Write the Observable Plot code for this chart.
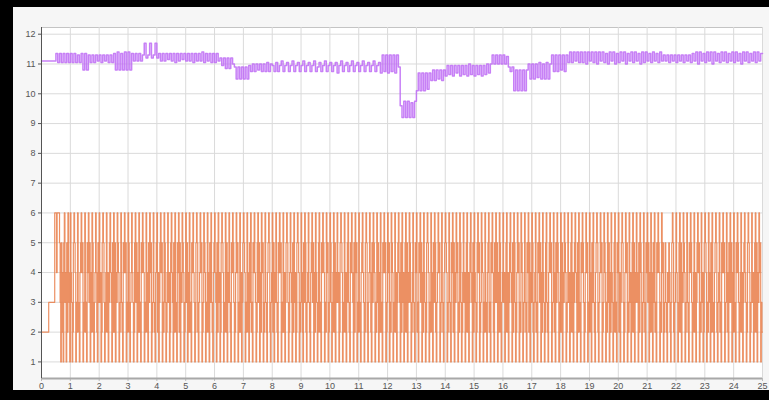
<!DOCTYPE html>
<html><head><meta charset="utf-8">
<script src="https://cdn.jsdelivr.net/npm/d3@7"></script>
<script src="https://cdn.jsdelivr.net/npm/@observablehq/plot@0.6"></script>
<style>
html,body{margin:0;padding:0;background:#000;width:769px;height:400px;overflow:hidden}
#panel{position:absolute;left:13px;top:7px;width:756px;height:383px;background:#f6f6f6}
#chart{position:absolute;left:0;top:0}
</style></head><body>
<div id="panel"></div>
<div id="chart"></div>
<script>
// x ticks (seconds) and y ticks
const xTicks = [0,1,2,3,4,5,6,7,8,9,10,11,12,13,14,15,16,17,18,19,20,21,22,23,24,25];
const yTicks = [1,2,3,4,5,6,7,8,9,10,11,12];

// Orange step signal: one string per second, 48 samples per second
const orangeRows = [
  "222222222222333333333366646666531524156341526431",
  "643125654132632145645123623154635142652134642153",
  "634125653124624135643152625143654123632154645132",
  "652134643125635142623154654132642153645123632145",
  "624135645132653124634125643152632154625143654123",
  "635142623154643125652134645123654132642153632145",
  "643152634125654123625143632154653124645132624135",
  "654132642153623154643125635142645123632145652134",
  "625143632154645132624135653124643152634125654123",
  "642153652134632145635142643125623154654132645123",
  "653124625143634125654123624135632154643152645132",
  "632145643125652134642153654132635142623154645123",
  "645132654123624135643152634125625143653124632154",
  "623154635142643125654132642153652134645123632145",
  "654123632154625143645132653124634125624135643152",
  "643125645123654132632145623154642153635142652134",
  "634125624135643152653124645132654123632154625143",
  "652134623154635142643125632145645123642153654132",
  "625143654123634125624135643152632154653124645132",
  "642153632145652134645123654132635142643125623154",
  "624135653124645132634125625143643152654123632154",
  "635142642153623154654132645123532143542135652134",
  "643125625143654123632154653124624135645132634125",
  "654132643152632145652134623154645123642153635142",
  "632154653124624135643125654123634125625143645132"
];

// Purple step signal: one array per second, 16 samples per second
const purpleRows = [
  [11.1,11.1,11.1,11.1,11.1,11.1,11.1,11.1,11.35,11.05,11.35,11.05,11.35,11.05,11.35,11.05],
  [11.35,11.05,11.35,11.05,11.3,11.05,11.35,10.8,11.35,10.8,11.3,11.05,11.3,11.05,11.3,11.1],
  [11.3,11.05,11.3,11.1,11.3,11.05,11.3,11.05,11.35,10.8,11.4,10.8,11.35,10.8,11.4,10.8],
  [11.4,10.8,11.35,11.1,11.35,11.1,11.35,11.1,11.3,11.7,11.2,11.3,11.7,11.2,11.3,11.7],
  [11.2,11.35,11.1,11.35,11.1,11.35,11.15,11.35,11.1,11.35,11.05,11.35,11.1,11.35,11.15,11.35],
  [11.1,11.35,11.1,11.35,11.05,11.35,11.1,11.35,11.1,11.4,11.05,11.35,11.1,11.35,11.05,11.35],
  [11.05,11.35,11.1,11.2,10.95,11.2,10.85,11.2,10.85,11.2,11.0,10.9,10.5,10.9,10.5,10.9],
  [10.5,10.9,10.5,10.95,10.75,11.0,10.75,11.0,10.8,11.0,10.75,11.0,10.75,11.05,10.75,11.0],
  [10.95,10.75,11.05,10.75,10.95,11.1,10.75,10.95,11.05,10.75,10.95,11.1,10.75,10.95,11.05,10.75],
  [10.95,11.1,10.75,10.95,11.05,10.75,10.95,11.1,10.75,10.9,11.05,10.75,10.95,11.1,10.75,10.95],
  [11.05,10.75,10.95,11.05,10.7,10.95,11.1,10.75,10.95,11.05,10.75,10.95,11.1,10.75,10.95,11.05],
  [10.75,10.95,11.1,10.75,10.95,11.05,10.75,10.95,11.1,10.75,10.95,11.05,10.7,11.3,10.75,11.3],
  [10.7,11.3,10.75,11.3,10.7,11.3,10.9,9.6,9.2,9.75,9.2,9.75,9.2,9.7,9.2,9.75],
  [10.1,10.7,10.1,10.7,10.1,10.7,10.15,10.7,10.45,10.8,10.45,10.8,10.5,10.8,10.45,10.8],
  [10.6,10.95,10.65,10.95,10.6,10.95,10.7,10.95,10.6,10.95,10.65,10.95,10.6,11.0,10.65,10.95],
  [10.6,10.95,10.65,10.95,10.6,10.95,10.65,11.0,10.7,11.0,11.3,11.0,11.3,11.0,11.3,11.0],
  [11.3,11.0,11.25,10.9,10.75,10.9,10.1,10.8,10.1,10.8,10.1,10.8,10.1,10.8,11.0,10.5],
  [11.0,10.5,11.0,10.55,11.05,10.5,11.0,10.5,11.05,10.5,11.0,11.3,10.75,11.3,10.75,11.3],
  [10.8,11.3,10.75,11.3,11.05,11.4,11.05,11.4,11.1,11.4,11.05,11.4,11.05,11.4,11.0,11.4],
  [11.1,11.4,11.05,11.4,11.0,11.4,11.1,11.4,11.05,11.35,11.0,11.4,11.1,11.4,11.0,11.35],
  [11.05,11.4,11.1,11.4,11.0,11.35,11.1,11.4,11.05,11.4,11.1,11.35,11.0,11.4,11.05,11.4],
  [11.1,11.35,11.05,11.4,11.1,11.35,11.05,11.4,11.1,11.3,11.1,11.3,11.05,11.3,11.1,11.3],
  [11.05,11.3,11.1,11.3,11.05,11.3,11.1,11.3,11.05,11.35,11.1,11.4,11.0,11.4,11.1,11.35],
  [11.05,11.4,11.1,11.4,11.0,11.4,11.1,11.35,11.05,11.4,11.1,11.4,11.05,11.35,11.1,11.4],
  [11.05,11.4,11.1,11.35,11.0,11.4,11.1,11.4,11.05,11.35,11.1,11.4,11.05,11.4,11.1,11.35]
];

// build tables
const orange = [];
orangeRows.forEach((row, s) => {
  row.split("").forEach((c, k) => orange.push({t: s + k / 48, v: +c}));
});
orange.push({t: 25, v: orange[orange.length - 1].v});
const purple = [];
purpleRows.forEach((row, s) => {
  row.forEach((v, k) => purple.push({t: s + k / 16, v}));
});
purple.push({t: 25, v: purple[purple.length - 1].v});

const yMin = 0.443, yMax = 12.225;

const chart = Plot.plot({
  width: 769, height: 400,
  marginLeft: 41, marginRight: 7, marginTop: 27, marginBottom: 22,
  style: {background: "transparent", fontFamily: "'Liberation Sans', Arial, sans-serif", fontSize: "9px", color: "#555"},
  x: {domain: [0, 25]},
  y: {domain: [yMin, yMax]},
  marks: [
    Plot.frame({fill: "white", stroke: "#c4c4c4"}),
    Plot.gridX(xTicks, {stroke: "#dadada", strokeOpacity: 1}),
    Plot.gridY(yTicks, {stroke: "#dadada", strokeOpacity: 1}),
    Plot.line(purple, {x: "t", y: "v", curve: "step-after", stroke: "#bd6af4", strokeWidth: 1.5, strokeOpacity: 0.85}),
    Plot.line(orange, {x: "t", y: "v", curve: "step-after", stroke: "#e97d48", strokeWidth: 1.2, strokeOpacity: 0.85}),
    Plot.axisX(xTicks, {tickSize: 3, tickPadding: 1, stroke: "#bbb", fill: "#555", label: null}),
    Plot.axisY(yTicks, {tickSize: 3, tickPadding: 3, stroke: "#555", fill: "#555", label: null}),
    Plot.ruleY([yMin], {stroke: "#a8a8a8", strokeWidth: 2}),
    Plot.ruleX([0], {stroke: "#555", strokeWidth: 1})
  ]
});
document.getElementById("chart").appendChild(chart);
</script>
</body></html>
